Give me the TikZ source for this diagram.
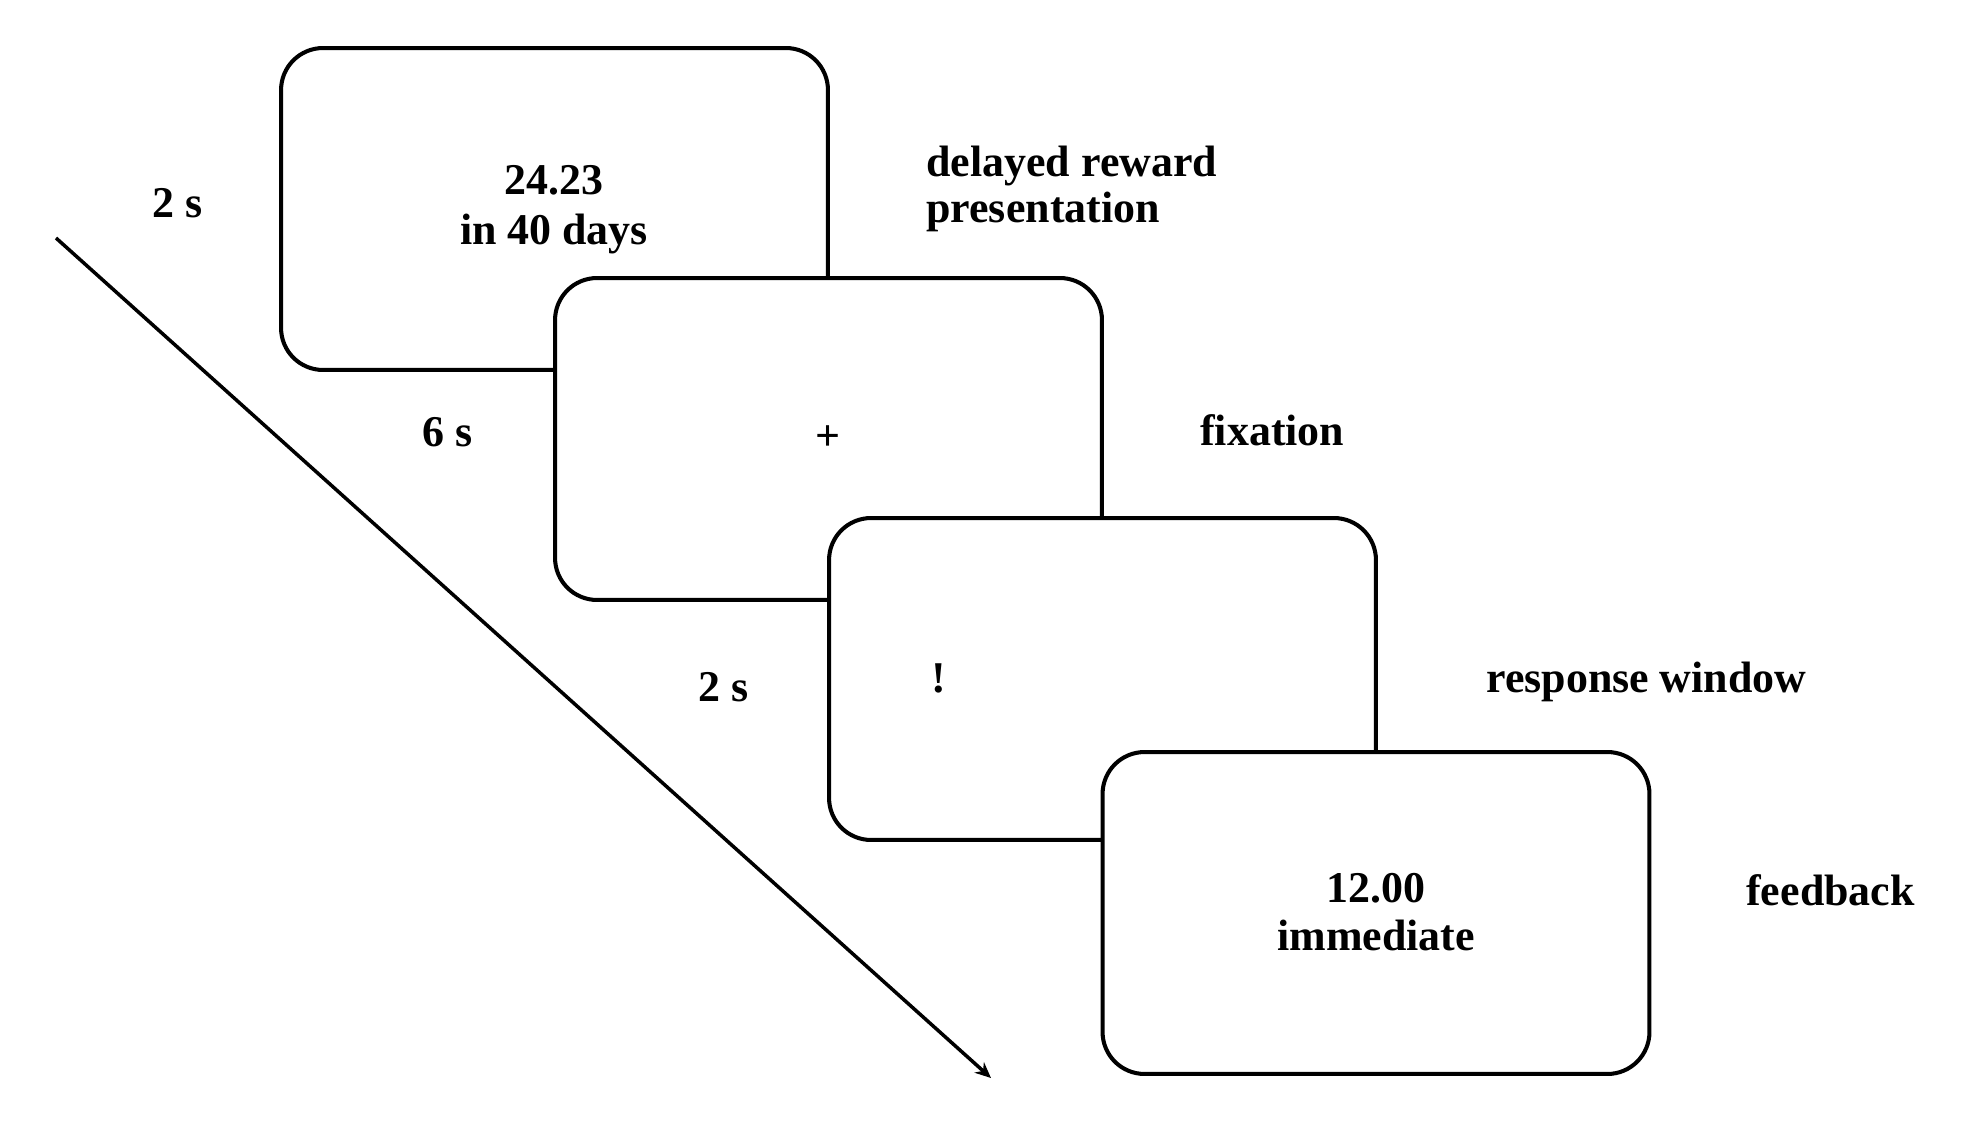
\documentclass[tikz,border=0pt]{standalone}
\usepackage{fontspec}
\setmainfont{Liberation Serif}
\usetikzlibrary{arrows.meta}
\begin{document}
\begin{tikzpicture}[x=0.02cm,y=-0.02cm,
  screen/.style={draw=black, line width=2.3pt, fill=white, rounded corners=0.84cm,
                 minimum width=10.94cm, minimum height=6.44cm, inner sep=0pt},
  lbl/.style={font=\fontsize{25}{28}\selectfont\bfseries, inner sep=0pt, anchor=base},
  rlbl/.style={lbl, anchor=base west},
  timeline/.style={line width=2pt, -{Stealth[length=9pt,width=8pt]}}]
\useasboundingbox (0,0) rectangle (1961,1125);
% time arrow
\coordinate (a0) at (56,238);
\coordinate (a1) at (991,1078);
\draw[timeline] (a0) -- (a1);
% screens
\node[screen] (s1) at (554.5,209) {};
\node[screen] (s2) at (828.5,439) {};
\node[screen] (s3) at (1102.5,679) {};
\node[screen] (s4) at (1376,913) {};
% screen contents
\node[lbl] (t1a) at (554,195) {24.23};
\node[lbl] (t1b) at (554,245) {in 40 days};
\node[lbl, anchor=center] (t2) at (828,438) {+};
\node[lbl] (t3) at (939,692) {!};
\node[lbl] (t4a) at (1376,902) {12.00};
\node[lbl] (t4b) at (1376,950) {immediate};
% durations
\node[lbl] (d1) at (178,218) {2 s};
\node[lbl] (d2) at (448,446) {6 s};
\node[lbl] (d3) at (724,701) {2 s};
% descriptions
\node[rlbl] (r1a) at (926,177) {delayed reward};
\node[rlbl] (r1b) at (926,223) {presentation};
\node[rlbl] (r2) at (1200,445) {fixation};
\node[rlbl] (r3) at (1486,692) {response window};
\node[rlbl] (r4) at (1746,905) {feedback};
\end{tikzpicture}
\end{document}
